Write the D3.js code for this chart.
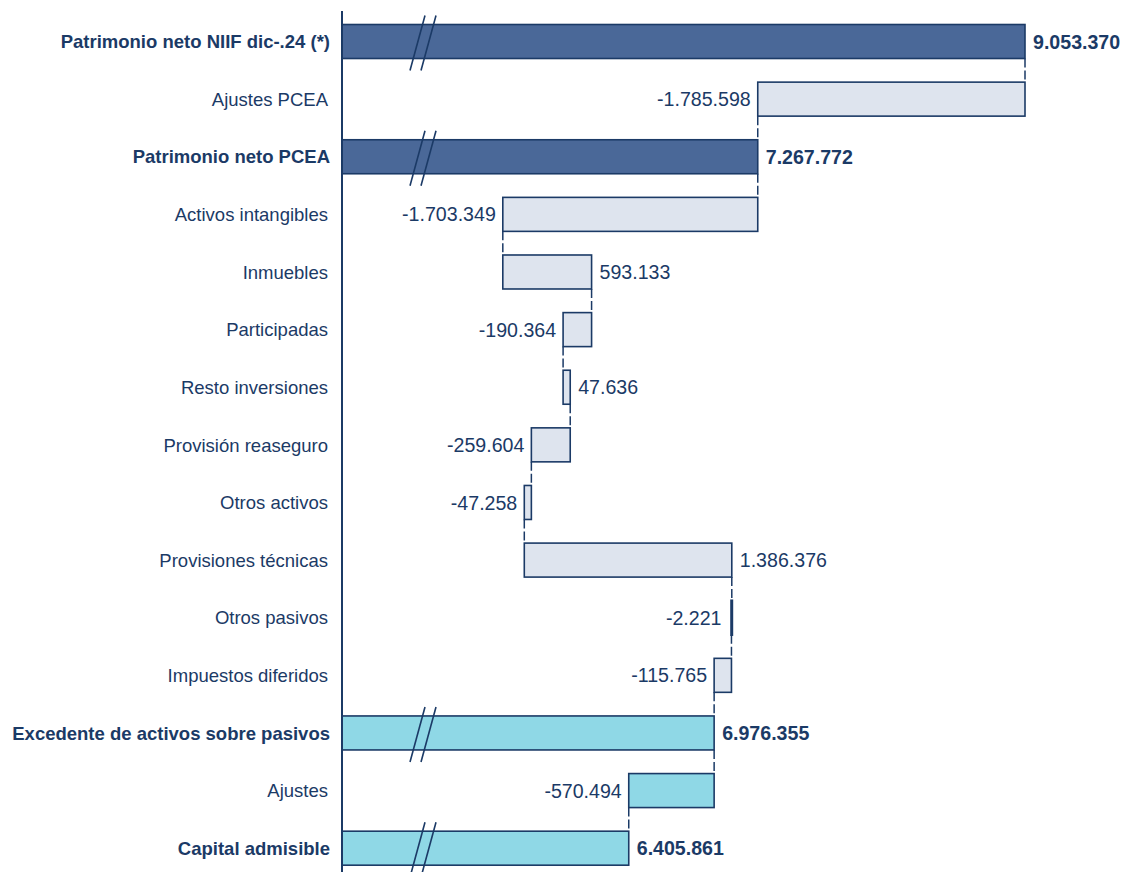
<!DOCTYPE html>
<html>
<head>
<meta charset="utf-8">
<script src="https://cdn.jsdelivr.net/npm/d3@7"></script>
<style>
  body { margin: 0; background: #fff; }
  svg { display: block; font-family: "Liberation Sans", Arial, sans-serif; }
</style>
</head>
<body>
<div class="container"></div>
<script>
// categorias del puente NIIF -> capital admisible
var categories = [
  "Patrimonio neto NIIF dic-.24 (*)",
  "Ajustes PCEA",
  "Patrimonio neto PCEA",
  "Activos intangibles",
  "Inmuebles",
  "Participadas",
  "Resto inversiones",
  "Provisión reaseguro",
  "Otros activos",
  "Provisiones técnicas",
  "Otros pasivos",
  "Impuestos diferidos",
  "Excedente de activos sobre pasivos",
  "Ajustes",
  "Capital admisible"
];
var values = [9053370, -1785598, 7267772, -1703349, 593133, -190364, 47636,
              -259604, -47258, 1386376, -2221, -115765, 6976355, -570494, 6405861];
// total = barra completa, delta = variacion
var kinds = ["total", "delta", "total", "delta", "delta", "delta", "delta",
             "delta", "delta", "delta", "delta", "delta", "total", "delta", "total"];
// grupo de color: 0 azul oscuro, 1 gris claro, 2 turquesa
var colorGroup = [0, 1, 0, 1, 1, 1, 1, 1, 1, 1, 1, 1, 2, 2, 2];
var axisStart = 4490000; // eje cortado

var W = 1123, H = 872;
var ink = "#1b3a66";
var fills = ["#4a6898", "#dee4ee", "#8fd8e6"];

var locale = d3.formatLocale({decimal: ",", thousands: ".", grouping: [3], currency: ["", ""], minus: "-"});
var fmt = locale.format(",d");

// running totals
var rows = [];
var run = 0;
categories.forEach(function (c, i) {
  var r = {name: c, value: values[i], kind: kinds[i], group: colorGroup[i]};
  if (r.kind == "total") {
    r.x0 = axisStart; r.x1 = r.value; r.start = r.value; r.end = r.value;
    run = r.value;
  } else {
    r.start = run;
    run = run + r.value;
    r.end = run;
    r.x0 = Math.min(r.start, r.end);
    r.x1 = Math.max(r.start, r.end);
  }
  rows.push(r);
});

var svg = d3.select(".container").append("svg")
  .attr("width", W).attr("height", H);

var x = d3.scaleLinear().domain([axisStart, 9053370]).range([342, 1025]);
var y = d3.scaleBand().domain(categories).range([12.7, 877])
  .paddingInner(0.41).paddingOuter(0.205);
var bh = y.bandwidth();

// conectores punteados
rows.forEach(function (d, i) {
  if (i == rows.length - 1) return;
  svg.append("line")
    .attr("x1", x(d.end)).attr("x2", x(d.end))
    .attr("y1", y(d.name) + bh).attr("y2", y(rows[i + 1].name))
    .attr("stroke", ink).attr("stroke-width", 1.5)
    .attr("stroke-dasharray", "9,3");
});

// barras
svg.selectAll("rect.bar").data(rows).enter().append("rect")
  .attr("class", "bar")
  .attr("x", d => x(d.x0))
  .attr("y", d => y(d.name))
  .attr("width", d => Math.max(0.5, x(d.x1) - x(d.x0)))
  .attr("height", bh)
  .attr("fill", d => fills[d.group])
  .attr("stroke", ink)
  .attr("stroke-width", d => (x(d.x1) - x(d.x0)) < 2 ? 2.5 : 1.6);

// marcas de corte //
rows.filter(d => d.kind == "total").forEach(function (d) {
  var top = y(d.name);
  [0, 11].forEach(function (off) {
    var bx = x.range()[0] + 68 + off;
    svg.append("line")
      .attr("x1", bx).attr("y1", top + bh + 12)
      .attr("x2", bx + 15).attr("y2", top - 9)
      .attr("stroke", ink).attr("stroke-width", 1.6);
  });
});

// eje vertical
svg.append("line")
  .attr("x1", 342).attr("x2", 342).attr("y1", 11).attr("y2", H)
  .attr("stroke", ink).attr("stroke-width", 2);

// etiquetas de categoria
svg.selectAll("text.cat").data(rows).enter().append("text")
  .attr("class", "cat")
  .attr("x", d => d.kind == "total" ? 330 : 328)
  .attr("y", d => y(d.name) + bh / 2)
  .attr("dy", "0.36em")
  .attr("text-anchor", "end")
  .attr("font-size", "18.5px")
  .attr("font-weight", d => d.kind == "total" ? "bold" : "normal")
  .attr("fill", ink)
  .text(d => d.name);

// etiquetas de valor
svg.selectAll("text.val").data(rows).enter().append("text")
  .attr("class", "val")
  .attr("x", function (d) {
    if (d.kind == "total" || d.value > 0) return x(d.x1) + 8;
    return x(d.x0) - (d.x1 - d.x0 < 20000 ? 10 : 7);
  })
  .attr("y", d => y(d.name) + bh / 2)
  .attr("dy", "0.36em")
  .attr("text-anchor", d => (d.kind == "total" || d.value > 0) ? "start" : "end")
  .attr("font-size", "19.6px")
  .attr("font-weight", d => d.kind == "total" ? "bold" : "normal")
  .attr("fill", ink)
  .text(d => fmt(d.value));
</script>
</body>
</html>
